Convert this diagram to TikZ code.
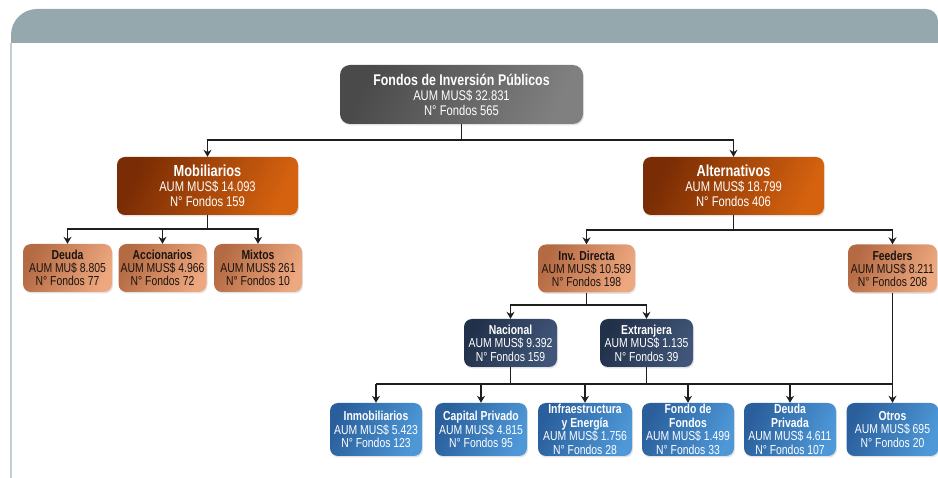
\documentclass[tikz,border=0pt]{standalone}
\usepackage{fontspec}
\setmainfont{Liberation Sans}[FakeStretch=0.8]
\usetikzlibrary{arrows.meta,shadows}
\definecolor{hdr}{HTML}{94A8AE}
\definecolor{frameln}{HTML}{C3CED3}
\definecolor{lnk}{HTML}{1E1E1E}
\definecolor{rootA}{HTML}{4A4A4A}
\definecolor{rootB}{HTML}{808080}
\definecolor{orA}{HTML}{7A2C04}
\definecolor{orB}{HTML}{D4620F}
\definecolor{ltA}{HTML}{B46A42}
\definecolor{ltB}{HTML}{EDA880}
\definecolor{nvA}{HTML}{22314A}
\definecolor{nvB}{HTML}{405577}
\definecolor{blA}{HTML}{2A5F9C}
\definecolor{blB}{HTML}{4E98D8}
\definecolor{darktxt}{HTML}{1C1410}
\tikzset{
  box/.style={rounded corners=8pt, align=center, inner sep=0pt,
    drop shadow={shadow xshift=1pt, shadow yshift=-1.5pt, opacity=0.22}},
  grad/.style 2 args={left color=#1, right color=#2, shading angle=65},
  rootbox/.style={box, rounded corners=10pt, grad={rootA}{rootB}, text=white,
    minimum width=243pt, minimum height=59pt, font=\fontsize{14}{15}\selectfont},
  lvone/.style={box, grad={orA}{orB}, text=white,
    minimum width=181pt, minimum height=58pt, font=\fontsize{14}{15}\selectfont},
  lvtwo/.style={box, grad={ltA}{ltB}, text=darktxt,
    minimum height=48pt, font=\fontsize{13}{13}\selectfont},
  navybox/.style={box, grad={nvA}{nvB}, text=white,
    minimum width=93pt, minimum height=48pt, font=\fontsize{13}{13.5}\selectfont},
  bluebox/.style={box, grad={blA}{blB}, text=white,
    minimum width=92pt, minimum height=53pt, font=\fontsize{13}{13.5}\selectfont},
  link/.style={draw=lnk, line width=1.3pt},
  arr/.style={link, -{Stealth[length=7pt,width=8pt]}},
  bigt/.style={},
}
\newcommand{\ttl}[2]{{\fontsize{#1}{#1}\selectfont\bfseries #2}}
\begin{document}
\begin{tikzpicture}[x=1pt,y=-1pt]
\useasboundingbox (0,0) rectangle (938,478);
% header and frame
\fill[hdr] (11,43) [rounded corners=26pt] -- (11,9) [rounded corners=12pt] -- (938,9) [sharp corners] -- (938,43) -- cycle;
\draw[frameln, line width=1.5pt] (11,43) -- (11,478);

% nodes
\node[rootbox] (root) at (461.5,94.5) {\ttl{15.5}{Fondos de Inversión Públicos}\\AUM MUS\$ 32.831\\N° Fondos 565};
\node[lvone] (mob) at (207.5,186) {\ttl{16}{Mobiliarios}\\AUM MUS\$ 14.093\\N° Fondos 159};
\node[lvone] (alt) at (733.5,186) {\ttl{16}{Alternativos}\\AUM MUS\$ 18.799\\N° Fondos 406};

\node[lvtwo, minimum width=89pt] (deu) at (67.5,268) {\ttl{13}{Deuda}\\AUM MU\$ 8.805\\N° Fondos 77};
\node[lvtwo, minimum width=88pt] (acc) at (162.5,268) {\ttl{13}{Accionarios}\\AUM MUS\$ 4.966\\N° Fondos 72};
\node[lvtwo, minimum width=88pt] (mix) at (258,268) {\ttl{13}{Mixtos}\\AUM MUS\$ 261\\N° Fondos 10};
\node[lvtwo, minimum width=97pt] (inv) at (586.5,268.5) {\ttl{13}{Inv. Directa}\\AUM MUS\$ 10.589\\N° Fondos 198};
\node[lvtwo, minimum width=89pt] (fee) at (892.5,268.5) {\ttl{13}{Feeders}\\AUM MUS\$ 8.211\\N° Fondos 208};

\node[navybox] (nac) at (510.5,343) {\ttl{13}{Nacional}\\AUM MUS\$ 9.392\\N° Fondos 159};
\node[navybox] (ext) at (646.5,343) {\ttl{13}{Extranjera}\\AUM MUS\$ 1.135\\N° Fondos 39};

\node[bluebox] (inm) at (376,429.5) {\ttl{13}{Inmobiliarios}\\AUM MUS\$ 5.423\\N° Fondos 123};
\node[bluebox] (cap) at (481,429.5) {\ttl{13}{Capital Privado}\\AUM MUS\$ 4.815\\N° Fondos 95};
\node[bluebox, minimum width=94pt] (inf) at (585,429.5) {\ttl{13}{Infraestructura}\\\ttl{13}{y Energía}\\AUM MUS\$ 1.756\\N° Fondos 28};
\node[bluebox] (fdf) at (688,429.5) {\ttl{13}{Fondo de}\\\ttl{13}{Fondos}\\AUM MUS\$ 1.499\\N° Fondos 33};
\node[bluebox] (dpr) at (790,429.5) {\ttl{13}{Deuda}\\\ttl{13}{Privada}\\AUM MUS\$ 4.611\\N° Fondos 107};
\node[bluebox] (otr) at (892.5,429.5) {\ttl{13}{Otros}\\AUM MUS\$ 695\\N° Fondos 20};

% bus coordinates
\coordinate (b1) at (461.5,140);
\coordinate (b2) at (207.5,229);
\coordinate (b3) at (733.5,230);
\coordinate (b4) at (586.5,305);
\coordinate (b5) at (0,384);

% connectors
\draw[link] (root.south) -- (b1);
\draw[arr] (b1) -| (mob.north);
\draw[arr] (b1) -| (alt.north);

\draw[link] (mob.south) -- (b2);
\draw[arr] (b2) -| (deu.north);
\draw[arr] (b2) -| (acc.north);
\draw[arr] (b2) -| (mix.north);

\draw[link] (alt.south) -- (b3);
\draw[arr] (b3) -| (inv.north);
\draw[arr] (b3) -| (fee.north);

\draw[link] (inv.south) -- (b4);
\draw[arr] (b4) -| (nac.north);
\draw[arr] (b4) -| (ext.north);

\draw[link] (nac.south) -- (nac.south |- b5);
\draw[link] (ext.south) -- (ext.south |- b5);
\draw[link] (inm.north |- b5) -- (otr.north |- b5);
\draw[arr] (inm.north |- b5) -- (inm.north);
\draw[arr] (cap.north |- b5) -- (cap.north);
\draw[arr] (inf.north |- b5) -- (inf.north);
\draw[arr] (fdf.north |- b5) -- (fdf.north);
\draw[arr] (dpr.north |- b5) -- (dpr.north);
\draw[arr] (fee.south) -- (otr.north);
\end{tikzpicture}
\end{document}
